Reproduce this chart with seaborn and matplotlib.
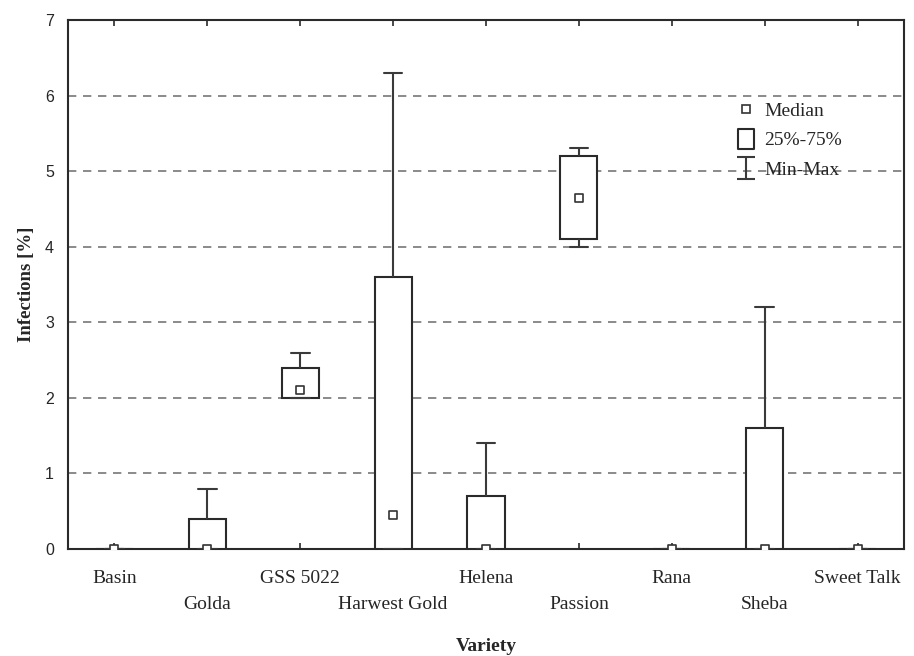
import matplotlib
matplotlib.use("Agg")
import matplotlib.pyplot as plt
import seaborn as sns
import pandas as pd
from matplotlib.lines import Line2D
from matplotlib.path import Path

varieties = ['Basin', 'Golda', 'GSS 5022', 'Harwest Gold', 'Helena',
             'Passion', 'Rana', 'Sheba', 'Sweet Talk']
mins = [0, 0, 2.0, 0, 0, 4.0, 0, 0, 0]
q1s = [0, 0, 2.0, 0, 0, 4.1, 0, 0, 0]
medians = [0, 0, 2.1, 0.45, 0, 4.65, 0, 0, 0]
q3s = [0, 0.4, 2.4, 3.6, 0.7, 5.2, 0, 1.6, 0]
maxs = [0, 0.8, 2.6, 6.3, 1.4, 5.3, 0, 3.2, 0]
yticks = [0, 1, 2, 3, 4, 5, 6, 7]

rows = []
for v, a, b, c, d, e in zip(varieties, mins, q1s, medians, q3s, maxs):
    for val in (a, b, c, d, e):
        rows.append({'Variety': v, 'Infections': val})
df = pd.DataFrame(rows)

sns.set_theme(style="white")
serif = ['Liberation Serif', 'DejaVu Serif']
sans = ['Liberation Sans', 'DejaVu Sans']
plt.rcParams['font.family'] = serif

fig = plt.figure(figsize=(9.14, 6.56), dpi=100)
ax = fig.add_axes([68/914, 1-549/656, (904-68)/914, (549-20)/656])

dark = '#2a2a2a'
sns.boxplot(data=df, x='Variety', y='Infections', order=varieties,
            whis=(0, 100), width=0.4, color='white', linecolor=dark,
            linewidth=1.5, showfliers=False,
            medianprops={'visible': False},
            whiskerprops={'color': '#3a3a3a'},
            capprops={'color': '#3a3a3a'},
            ax=ax, zorder=3)
sns.stripplot(x=varieties, y=medians, order=varieties, jitter=False,
              marker='s', size=6, color='white', edgecolor='#333333',
              linewidth=1.2, ax=ax, zorder=6)

ax.set_ylim(0, 7)
ax.set_xlim(-0.5, len(varieties) - 0.5)
ax.set_yticks(yticks)
ax.set_yticklabels([str(t) for t in yticks], family=sans, fontsize=11.5)
for t in yticks[1:-1]:
    ax.axhline(t, color='#777777', linestyle=(0, (5, 4)), linewidth=1.2, zorder=1)

ax.set_xticks(range(len(varieties)))
ax.set_xticklabels(varieties, fontsize=14)
ax.tick_params(axis='x', direction='in', length=4, width=1.2, color=dark,
               top=True, bottom=True, pad=15)
ax.tick_params(axis='y', direction='in', length=0, pad=10)
for i, tick in enumerate(ax.xaxis.get_major_ticks()):
    if i % 2 == 1:
        tick.set_pad(34)

for s in ax.spines.values():
    s.set_visible(True)
    s.set_color(dark)
    s.set_linewidth(1.5)

ax.set_xlabel('Variety', fontsize=14, fontweight='bold', labelpad=18)
ax.set_ylabel('Infections [%]', fontsize=13.5, fontweight='bold', labelpad=7)

cap_path = Path([(-0.8, 1), (0.8, 1), (0, 1), (0, -1), (-0.8, -1), (0.8, -1)],
                [Path.MOVETO, Path.LINETO, Path.MOVETO, Path.LINETO,
                 Path.MOVETO, Path.LINETO])
rect_path = Path([(-0.75, -1), (0.75, -1), (0.75, 1), (-0.75, 1), (-0.75, -1)],
                 [Path.MOVETO, Path.LINETO, Path.LINETO, Path.LINETO, Path.CLOSEPOLY])
handles = [
    Line2D([], [], linestyle='none', marker='s', markersize=6,
           markerfacecolor='white', markeredgecolor='#333333', markeredgewidth=1.2),
    Line2D([], [], linestyle='none', marker=rect_path, markersize=14.5,
           markerfacecolor='white', markeredgecolor=dark, markeredgewidth=1.5),
    Line2D([], [], linestyle='none', marker=cap_path, markersize=16,
           markerfacecolor='none', markeredgecolor='#3a3a3a', markeredgewidth=1.5),
]
ax.legend(handles, ['Median', '25%-75%', 'Min-Max'], loc='upper left',
          bbox_to_anchor=(0.776, 0.878), frameon=False, fontsize=14,
          handletextpad=0.35, labelspacing=0.62, handlelength=1.2)

fig.savefig('out.png', dpi=100)
